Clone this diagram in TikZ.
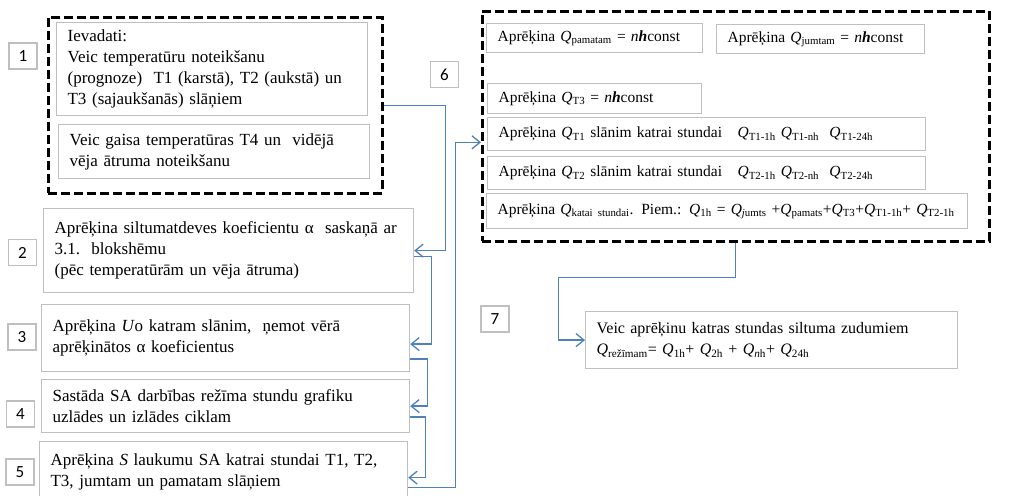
\documentclass[tikz,border=0pt]{standalone}
\usepackage{fontspec}
\setmainfont{Liberation Serif}
\newfontfamily\numfont{Carlito}
\usetikzlibrary{arrows.meta}
\definecolor{boxgray}{HTML}{BFBFBF}
\definecolor{linkblue}{HTML}{4F81BD}
\tikzstyle{bx}=[draw=boxgray, line width=1.2pt, anchor=north west, align=left, inner xsep=11pt, inner ysep=0pt, font=\fontsize{17}{21}\selectfont]
\tikzstyle{qbx}=[bx, font=\fontsize{15.5}{19}\selectfont]
\tikzstyle{grp}=[draw=black, line width=2.6pt, dash pattern=on 9pt off 4pt, anchor=north west, inner sep=0pt]
\tikzstyle{num}=[draw=boxgray, line width=1.2pt, minimum width=28pt, minimum height=26pt, inner sep=0pt, font=\numfont\fontsize{17}{20}\selectfont]
\tikzstyle{link}=[draw=linkblue, line width=1.3pt, -{Straight Barb[length=8pt,width=13pt]}]
\newcommand{\Q}[1]{\textit{Q}\textsubscript{#1}}
\newcommand{\nhc}{\textit{n\textbf{h}}const}

\begin{document}
\begin{tikzpicture}[x=1pt, y=-1pt]
\useasboundingbox (0,0) rectangle (1027,495);
\foreach \i/\x/\y in {1/23/56, 2/22.5/252.5, 3/22/337, 4/20.5/414, 5/20/472, 6/444.5/74.5, 7/495/319}
  {\node[num] (n\i) at (\x,\y) {\i};}
% left column
\node[grp, minimum width=334pt, minimum height=176pt] (g1) at (47,16) {};
\node[bx, text width=289pt, minimum height=93pt] (in1) at (56,22) {Ievadati:\\Veic temperatūru noteikšanu\\(prognoze)\ \ T1 (karstā), T2 (aukstā) un\\T3 (sajaukšanās) slāņiem};
\node[bx, text width=289pt, minimum height=54pt] (in2) at (58,124) {Veic gaisa temperatūras T4 un\ \ vidējā\\vēja ātruma noteikšanu};
\node[bx, text width=348pt, minimum height=84pt] (b2) at (43,208) {Aprēķina siltumatdeves koeficientu α\ \ saskaņā ar\\3.1.\ \ blokshēmu\\(pēc temperatūrām un vēja ātruma)};
\node[bx, text width=346pt, minimum height=67pt] (b3) at (41,304) {Aprēķina \textit{U}o katram slānim,\ \ ņemot vērā\\aprēķinātos α koeficientus\\[8pt]};
\node[bx, text width=346pt, minimum height=53pt] (b4) at (41,379) {Sastāda SA darbības režīma stundu grafiku\\uzlādes un izlādes ciklam};
\node[bx, text width=346pt, minimum height=60pt] (b5) at (39,441) {Aprēķina \textit{S} laukumu SA katrai stundai T1, T2,\\T3, jumtam un pamatam slāņiem};
% right column
\node[grp, minimum width=507pt, minimum height=230pt] (g6) at (481,10) {};
\node[qbx, text width=194pt, minimum height=29pt] (q1) at (486,23) {\mbox{Aprēķina \Q{pamatam} = \nhc}};
\node[qbx, text width=186pt, minimum height=29pt] (q2) at (716,24) {\mbox{Aprēķina \Q{jumtam} = \nhc}};
\node[qbx, text width=192pt, minimum height=30pt] (q3) at (487,83) {\mbox{Aprēķina \Q{T3} = \nhc}};
\node[qbx, text width=416pt, minimum height=33pt] (q4) at (487,117) {\mbox{Aprēķina \Q{T1} slānim katrai stundai\ \ \ \Q{T1-1h} \Q{T1-nh}\ \ \Q{T1-24h}}};
\node[qbx, text width=416pt, minimum height=33pt] (q5) at (487,156) {\mbox{Aprēķina \Q{T2} slānim katrai stundai\ \ \ \Q{T2-1h} \Q{T2-nh}\ \ \Q{T2-24h}}};
\node[qbx, text width=459pt, minimum height=35pt] (q6) at (486,193) {\mbox{Aprēķina \Q{katai stundai}. Piem.: \Q{1h} = \Q{\textit{j}umts} +\Q{pamats}+\Q{T3}+\Q{T1-1h}+ \Q{T2-1h}}};
\node[bx, font=\fontsize{16}{21}\selectfont, text width=350pt, minimum height=57pt] (b7) at (585,311) {Veic aprēķinu katras stundas siltuma zudumiem\\\Q{režīmam}= \Q{1h}+ \Q{2h} + \Q{\textit{n}h}+ \Q{24h}};
% connectors
\draw[link] (g1.east) -- ++(62,0) |- (b2.east);
\draw[link] ([yshift=-6pt]b2.east) -- ++(17,0) |- ([yshift=-6pt]b3.east);
\draw[link] ([yshift=-21pt]b3.east) -- ++(17,0) |- (b4.east);
\draw[link] ([yshift=-11pt]b4.east) -- ++(15,0) |- ([yshift=-6pt]b5.east);
\draw[link] ([yshift=-16pt]b5.east) -- ++(47,0) |- ([yshift=-16pt]g6.west);
\draw[link] (g6.south) -- ++(0,35) -- ++(-177,0) |- (b7.west);
\end{tikzpicture}
\end{document}
